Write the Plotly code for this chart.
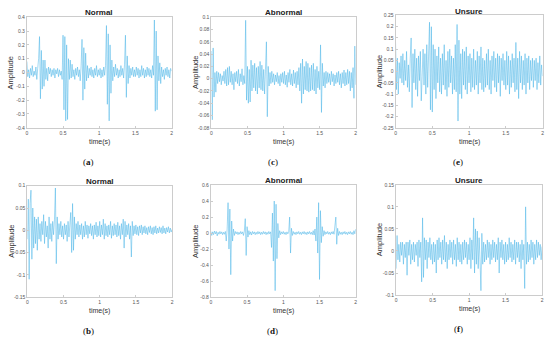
import numpy as np
import plotly.graph_objects as go

# ---------------- data ----------------
sig_a = [0.08, -0.03, 0.02, -0.04, 0.03, -0.02, 0.05, -0.03, 0.01, -0.02,
         0.04, -0.05, 0.03, 0.10, 0.26, -0.19, 0.16, -0.12, 0.09, -0.10,
         0.09, -0.05, 0.03, -0.06, 0.04, -0.01, 0.03, -0.03, 0.02, -0.02,
         0.03, -0.04, 0.02, -0.01, 0.03, -0.03, 0.02, -0.02, 0.01, -0.05,
         0.27, -0.27, 0.26, -0.35, 0.20, -0.34, 0.10, -0.05, 0.09, -0.04,
         0.06, -0.03, 0.02, -0.05, 0.03, -0.02, 0.04, -0.03, 0.02, -0.06,
         0.05, 0.24, -0.20, 0.18, -0.12, 0.14, -0.06, 0.05, -0.04, 0.03,
         -0.02, 0.04, -0.03, 0.02, -0.04, 0.03, -0.02, 0.05, -0.03, 0.02,
         -0.02, 0.03, -0.04, 0.02, -0.03, 0.04, -0.02, 0.05, 0.34, -0.23,
         0.28, -0.35, 0.20, -0.15, 0.09, -0.06, 0.04, -0.03, 0.06, -0.02,
         0.03, -0.04, 0.02, -0.03, 0.05, -0.02, 0.03, -0.04, 0.06, 0.27,
         -0.18, 0.12, -0.08, 0.05, -0.04, 0.03, -0.02, 0.04, -0.03, 0.02,
         -0.03, 0.04, -0.02, 0.03, -0.04, 0.02, -0.03, 0.05, -0.02, 0.03,
         -0.04, 0.02, -0.03, 0.04, -0.02, 0.03, -0.03, 0.02, -0.04, 0.05,
         -0.02, 0.38, -0.28, 0.30, -0.27, 0.12, -0.06, 0.07, -0.08, 0.04,
         -0.03, 0.02, -0.05, 0.03, -0.02, 0.04, -0.03, 0.02, -0.04, 0.03, 0.01]

sig_b = [-0.02, 0.07, -0.11, 0.06, 0.09, -0.065, 0.05, -0.04, 0.03, -0.03,
         0.025, -0.045, 0.03, -0.02, 0.015, -0.025, 0.02, -0.01, 0.035, -0.03,
         0.02, -0.015, 0.01, -0.04, 0.03, -0.02, 0.015, -0.025, 0.02, -0.01,
         0.025, 0.095, -0.075, 0.03, -0.02, 0.015, -0.01, 0.02, -0.015, 0.01,
         -0.02, 0.015, -0.01, 0.012, -0.025, 0.02, -0.015, 0.01, 0.04, -0.05,
         0.06, -0.045, 0.03, -0.02, 0.015, -0.01, 0.02, -0.015, 0.012, -0.01,
         0.015, -0.02, 0.01, -0.015, 0.02, -0.01, 0.012, -0.018, 0.01, -0.008,
         0.015, -0.012, 0.01, -0.02, 0.012, -0.01, 0.018, -0.015, 0.01, -0.012,
         0.02, -0.015, 0.012, -0.01, 0.025, -0.02, 0.015, -0.012, 0.01, -0.015,
         0.012, -0.01, 0.02, -0.018, 0.01, -0.012, 0.015, -0.01, 0.012, -0.015,
         0.018, -0.012, 0.01, -0.02, 0.015, -0.01, 0.025, -0.04, 0.02, -0.015,
         0.012, -0.01, 0.015, -0.02, 0.01, -0.06, 0.02, -0.012, 0.01, -0.008,
         0.012, -0.01, 0.008, -0.012, 0.01, -0.006, 0.012, -0.01, 0.008, -0.006,
         0.01, -0.008, 0.006, -0.01, 0.008, -0.005, 0.01, -0.008, 0.006, -0.01,
         0.008, -0.006, 0.01, -0.008, 0.005, -0.006, 0.008, -0.005, 0.006, -0.008,
         0.01, -0.006, 0.005, -0.008, 0.006, -0.004, 0.008, -0.006, 0.005, -0.004, 0.002]

sig_c = [0.045, -0.067, 0.05, -0.03, 0.01, -0.022, 0.012, -0.008, 0.01, -0.005,
         0.008, -0.01, 0.005, -0.004, 0.012, -0.008, 0.015, -0.012, 0.018, -0.01,
         0.02, -0.006, 0.012, -0.01, 0.008, -0.018, 0.01, -0.005, 0.012, -0.008,
         0.015, -0.012, 0.008, -0.005, 0.016, -0.01, 0.005, -0.008, 0.095, -0.035,
         0.02, -0.04, 0.015, -0.038, 0.03, -0.02, 0.022, -0.015, 0.025, -0.02,
         0.018, -0.025, 0.02, -0.015, 0.028, -0.018, 0.022, -0.02, 0.015, -0.025,
         0.015, 0.06, -0.062, 0.02, -0.012, 0.01, -0.008, 0.012, -0.006, 0.008,
         -0.01, 0.006, -0.005, 0.01, -0.008, 0.005, -0.012, 0.008, -0.006, 0.01,
         -0.008, 0.012, -0.01, 0.006, -0.014, 0.01, -0.006, 0.015, -0.01, 0.008,
         -0.012, 0.014, -0.008, 0.01, -0.015, 0.012, -0.01, 0.018, -0.02, 0.025,
         -0.04, 0.032, -0.025, 0.02, -0.018, 0.028, -0.02, 0.025, -0.022, 0.018,
         -0.02, 0.022, -0.018, 0.025, -0.02, 0.015, -0.025, 0.02, -0.015, 0.012,
         -0.018, 0.055, -0.055, 0.025, -0.012, 0.01, -0.015, 0.012, -0.008, 0.01,
         -0.006, 0.008, -0.01, 0.012, -0.005, 0.008, -0.012, 0.006, -0.008, 0.01,
         -0.006, 0.012, -0.01, 0.008, -0.015, 0.01, -0.008, 0.014, -0.012, 0.01,
         -0.01, 0.015, -0.008, 0.012, -0.02, 0.01, -0.015, 0.018, -0.032, 0.053, -0.01]

sig_d = [0.02, -0.03, 0.015, -0.02, 0.025, -0.01, 0.02, -0.035, 0.01, -0.015,
         0.02, -0.01, 0.015, -0.02, 0.01, -0.015, 0.02, -0.1, 0.05, 0.38,
         -0.2, 0.3, -0.52, 0.15, -0.1, 0.05, -0.03, 0.02, -0.01, 0.015,
         -0.02, 0.01, -0.015, 0.02, -0.01, 0.015, -0.03, 0.025, 0.18, -0.28,
         0.08, -0.05, 0.03, -0.02, 0.015, -0.025, 0.02, -0.01, 0.015, -0.02,
         0.01, -0.015, 0.02, -0.01, 0.015, -0.02, 0.01, -0.015, 0.02, -0.01,
         0.015, -0.02, 0.01, -0.015, 0.02, -0.01, 0.015, -0.18, 0.25, -0.35,
         0.4, -0.72, 0.36, -0.32, 0.12, -0.06, 0.03, -0.02, 0.015, -0.01,
         0.02, -0.015, 0.01, -0.02, 0.015, -0.01, 0.02, 0.2, -0.25, 0.06,
         -0.03, 0.02, -0.015, 0.01, -0.02, 0.015, -0.01, 0.02, -0.015, 0.01,
         -0.02, 0.015, -0.01, 0.02, -0.015, 0.01, -0.02, 0.015, -0.01, 0.02,
         -0.015, 0.01, -0.02, 0.03, -0.025, 0.05, -0.1, 0.2, -0.25, 0.38,
         -0.58, 0.28, -0.12, 0.08, -0.04, 0.03, -0.02, 0.015, -0.01, 0.02,
         -0.015, 0.01, -0.02, 0.015, -0.01, 0.02, -0.015, 0.08, 0.2, -0.14,
         0.06, -0.03, 0.02, -0.015, 0.01, -0.02, 0.015, -0.01, 0.02, -0.015,
         0.01, -0.02, 0.015, -0.01, 0.02, -0.015, 0.01, -0.02, 0.03, -0.01, 0.05]

sig_e = [0.13, -0.08, 0.06, -0.1, 0.04, -0.03, 0.07, -0.05, 0.08, -0.06,
         0.05, -0.04, 0.09, -0.07, 0.03, -0.09, 0.06, 0.15, -0.16, 0.08,
         -0.05, 0.1, -0.08, 0.06, -0.11, 0.07, -0.04, 0.09, -0.13, 0.05,
         0.1, -0.06, 0.08, -0.1, 0.12, -0.07, 0.05, 0.22, -0.17, 0.2,
         -0.18, 0.12, -0.08, 0.1, -0.12, 0.07, -0.05, 0.11, -0.09, 0.06,
         -0.1, 0.08, -0.06, 0.12, -0.08, 0.05, -0.11, 0.09, -0.07, 0.1,
         -0.05, 0.07, -0.1, 0.06, -0.08, 0.12, -0.09, 0.21, -0.22, 0.14,
         -0.1, 0.08, -0.12, 0.1, -0.06, 0.09, -0.08, 0.11, -0.1, 0.07,
         -0.05, 0.08, -0.09, 0.06, -0.07, 0.1, -0.08, 0.05, -0.06, 0.09,
         -0.1, 0.07, -0.05, 0.11, -0.08, 0.06, -0.09, 0.05, -0.07, 0.08,
         -0.06, 0.1, -0.08, 0.05, -0.1, 0.07, -0.04, 0.09, -0.07, 0.06,
         -0.09, 0.08, -0.05, 0.07, -0.11, 0.06, -0.04, 0.08, -0.06, 0.05,
         -0.08, 0.09, -0.06, 0.07, -0.1, 0.05, -0.07, 0.08, -0.05, 0.06,
         -0.09, 0.13, -0.08, 0.06, -0.12, 0.09, -0.05, 0.07, -0.08, 0.05,
         -0.06, 0.08, -0.1, 0.06, -0.05, 0.07, -0.08, 0.05, -0.04, 0.06,
         -0.07, 0.05, -0.04, 0.06, -0.08, 0.04, -0.05, 0.07, -0.06, 0.03, -0.02]

sig_f = [-0.04, 0.035, -0.02, 0.015, -0.025, 0.02, -0.01, 0.02, -0.03, 0.015,
         -0.015, 0.02, -0.055, 0.02, -0.01, 0.025, -0.03, 0.015, -0.02, 0.02,
         -0.025, 0.015, -0.01, 0.02, -0.035, 0.025, -0.015, 0.02, -0.07, 0.075,
         -0.06, 0.03, -0.02, 0.025, -0.04, 0.02, -0.015, 0.03, -0.02, 0.015,
         -0.03, 0.02, -0.025, 0.015, -0.05, 0.025, -0.02, 0.03, -0.015, 0.02,
         -0.03, 0.025, -0.02, 0.035, -0.025, 0.02, -0.04, 0.015, -0.02, 0.025,
         -0.015, 0.02, -0.03, 0.025, -0.02, 0.015, -0.035, 0.03, -0.02, 0.02,
         -0.025, 0.015, -0.03, 0.02, -0.02, 0.025, -0.015, 0.02, -0.03, 0.015,
         -0.02, 0.03, -0.04, 0.025, -0.02, 0.075, -0.05, 0.05, -0.03, 0.045,
         -0.04, 0.03, -0.02, -0.09, 0.04, -0.03, 0.02, -0.025, 0.015, -0.02,
         0.025, -0.015, 0.02, -0.03, 0.015, -0.02, 0.025, -0.015, 0.02, -0.025,
         0.015, -0.02, 0.03, -0.05, 0.02, -0.015, 0.025, -0.02, 0.015, -0.03,
         0.02, -0.025, 0.015, -0.02, 0.03, -0.015, 0.02, -0.025, 0.015, -0.02,
         0.025, -0.03, 0.02, -0.015, 0.02, -0.025, 0.015, -0.04, 0.025, -0.02,
         0.015, -0.085, 0.1, -0.03, 0.02, -0.025, 0.015, -0.02, 0.025, -0.015,
         0.02, -0.03, 0.015, -0.02, 0.025, -0.015, 0.02, -0.01, 0.015, -0.02, 0.01]

titles = {"a": "Normal", "b": "Normal", "c": "Abnormal", "d": "Abnormal", "e": "Unsure", "f": "Unsure"}
x_ticks = [0, 0.5, 1, 1.5, 2]
x_ticklabels = ["0", "0.5", "1", "1.5", "2"]
y_ticks = {
    "a": [-0.4, -0.3, -0.2, -0.1, 0, 0.1, 0.2, 0.3, 0.4],
    "c": [-0.08, -0.06, -0.04, -0.02, 0, 0.02, 0.04, 0.06, 0.08, 0.1],
    "e": [-0.25, -0.2, -0.15, -0.1, -0.05, 0, 0.05, 0.1, 0.15, 0.2, 0.25],
    "b": [-0.15, -0.1, -0.05, 0, 0.05, 0.1],
    "d": [-0.8, -0.6, -0.4, -0.2, 0, 0.2, 0.4, 0.6],
    "f": [-0.1, -0.05, 0, 0.05, 0.1, 0.15],
}
signals = {"a": sig_a, "b": sig_b, "c": sig_c, "d": sig_d, "e": sig_e, "f": sig_f}

# ---------------- layout (pixels) ----------------
W, H = 550, 343
# left, right, top, bottom in px
boxes = {
    "a": (26, 171.5, 14.5, 127),
    "c": (211.5, 356.7, 14.5, 127),
    "e": (396.7, 544.5, 12.7, 127),
    "b": (26.5, 172, 186, 299.3),
    "d": (211, 356.7, 185.3, 299.3),
    "f": (397.3, 544, 185, 297.3),
}

LINE = "#45b2e6"
FONT = "Liberation Sans, Arial, sans-serif"
fig = go.Figure()
annotations = []
for i, key in enumerate(["a", "b", "c", "d", "e", "f"]):
    n = i + 1
    xa = "x" if n == 1 else f"x{n}"
    ya = "y" if n == 1 else f"y{n}"
    sig = signals[key]
    t = np.linspace(0, 2, len(sig))
    fig.add_trace(go.Scatter(x=t, y=sig, mode="lines", xaxis=xa, yaxis=ya,
                             line=dict(color=LINE, width=0.5), showlegend=False,
                             hoverinfo="skip"))
    l, r, tp, bt = boxes[key]
    yt = y_ticks[key]
    common = dict(showline=True, mirror=True, linecolor="#cccccc", linewidth=1,
                  showgrid=False, zeroline=False, ticks="inside", ticklen=2,
                  tickcolor="#cccccc", tickfont=dict(size=5, color="#555", family=FONT))
    fig.layout[xa.replace("x", "xaxis")] = dict(
        domain=[l / W, r / W], anchor=ya, range=[0, 2], tickvals=x_ticks,
        ticktext=x_ticklabels, **common)
    fig.layout[ya.replace("y", "yaxis")] = dict(
        domain=[1 - bt / H, 1 - tp / H], anchor=xa, range=[yt[0], yt[-1]],
        tickvals=yt, ticktext=[f"{v:g}" for v in yt], **common)
    cx = (l + r) / 2
    annotations.append(dict(text=f"<b>{titles[key]}</b>", x=cx / W, y=1 - (tp - 4.5) / H,
                            xref="paper", yref="paper", showarrow=False,
                            font=dict(size=8, color="#222", family=FONT),
                            xanchor="center", yanchor="middle"))
    annotations.append(dict(text="time(s)", x=cx / W, y=1 - (bt + 14) / H,
                            xref="paper", yref="paper", showarrow=False,
                            font=dict(size=7, color="#333", family=FONT),
                            xanchor="center", yanchor="middle"))
    annotations.append(dict(text="Amplitude", x=(l - 16) / W, y=1 - ((tp + bt) / 2) / H,
                            xref="paper", yref="paper", showarrow=False, textangle=-90,
                            font=dict(size=7.5, color="#333", family=FONT),
                            xanchor="center", yanchor="middle"))
    annotations.append(dict(text=f"(<b>{key}</b>)", x=(cx - 11) / W,
                            y=1 - (bt + 35) / H,
                            xref="paper", yref="paper", showarrow=False,
                            font=dict(size=9, color="#111", family="Liberation Serif, Times New Roman, serif"),
                            xanchor="center", yanchor="middle"))

fig.update_layout(width=W, height=H, margin=dict(l=0, r=0, t=0, b=0),
                  paper_bgcolor="white", plot_bgcolor="white",
                  annotations=annotations)
fig.write_html("out.html", config={"displayModeBar": False},
               post_script="document.body.style.margin='0';")
